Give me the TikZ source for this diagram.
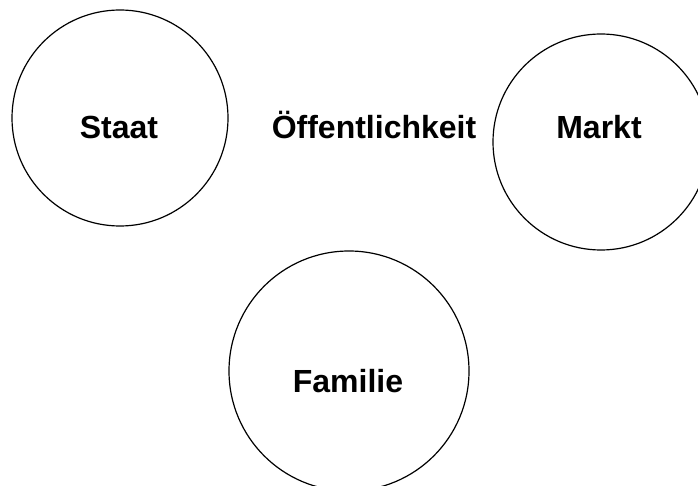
\documentclass[tikz,border=0pt]{standalone}
\usepackage{fontspec}
\setmainfont{Liberation Sans}
\begin{document}
\begin{tikzpicture}[x=1pt,y=-1pt,
  ring/.style={circle, draw=black, line width=1.2pt, inner sep=0pt},
  lbl/.style={anchor=base, font=\bfseries\fontsize{32}{38}\selectfont, inner sep=0pt}]
\useasboundingbox (0,0) rectangle (698,486);
\clip (0,0) rectangle (698,486);
\node[ring, minimum size=216pt] (staat) at (120,118) {};
\node[ring, minimum size=216pt] (markt) at (601,142) {};
\node[ring, minimum size=240pt] (familie) at (349,371) {};
\node[lbl] (staatl) at (119,139) {Staat};
\node[lbl] (oeff) at (374,139) {Öffentlichkeit};
\node[lbl] (marktl) at (599,139) {Markt};
\node[lbl] (familiel) at (348,392) {Familie};
\end{tikzpicture}
\end{document}
